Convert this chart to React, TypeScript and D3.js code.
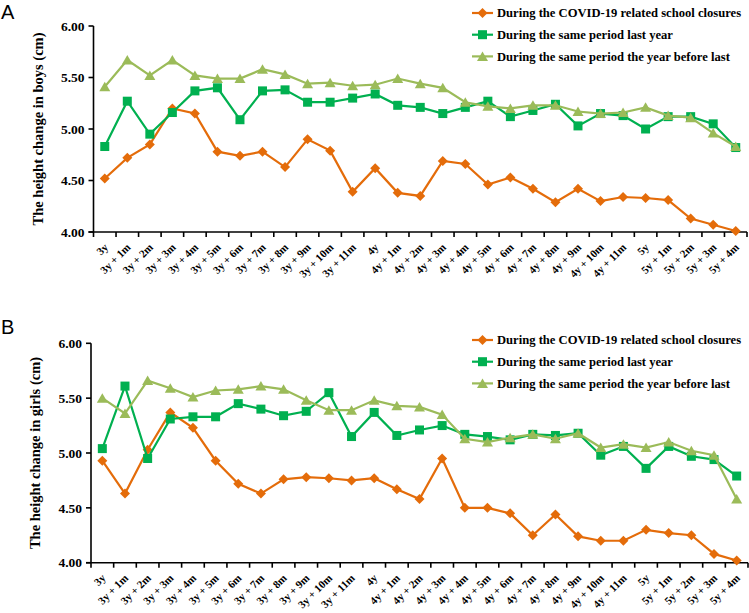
import React from "react";
import * as d3 from "d3";

const categories = [
  "3y", "3y + 1m", "3y + 2m", "3y + 3m", "3y + 4m", "3y + 5m", "3y + 6m", "3y + 7m", "3y + 8m", "3y + 9m", "3y + 10m", "3y + 11m",
  "4y", "4y + 1m", "4y + 2m", "4y + 3m", "4y + 4m", "4y + 5m", "4y + 6m", "4y + 7m", "4y + 8m", "4y + 9m", "4y + 10m", "4y + 11m",
  "5y", "5y + 1m", "5y + 2m", "5y + 3m", "5y + 4m",
];

const seriesNames = [
  "During the COVID-19 related school closures",
  "During the same period last year",
  "During the same period the year before last",
];

const boysCovid = [4.52, 4.72, 4.85, 5.2, 5.15, 4.78, 4.74, 4.78, 4.63, 4.9, 4.79, 4.39, 4.62, 4.38, 4.35, 4.69, 4.66, 4.46, 4.53, 4.42, 4.29, 4.42, 4.3, 4.34, 4.33, 4.31, 4.13, 4.07, 4.01];
const boysLastYear = [4.83, 5.27, 4.95, 5.16, 5.37, 5.4, 5.09, 5.37, 5.38, 5.26, 5.26, 5.3, 5.34, 5.23, 5.21, 5.15, 5.21, 5.27, 5.12, 5.18, 5.24, 5.03, 5.15, 5.13, 5.0, 5.12, 5.12, 5.05, 4.82];
const boysTwoYears = [5.41, 5.67, 5.52, 5.67, 5.52, 5.49, 5.49, 5.58, 5.53, 5.44, 5.45, 5.42, 5.43, 5.49, 5.44, 5.4, 5.26, 5.22, 5.2, 5.23, 5.23, 5.17, 5.15, 5.16, 5.21, 5.13, 5.11, 4.96, 4.83];

const girlsCovid = [4.93, 4.63, 5.03, 5.37, 5.23, 4.93, 4.72, 4.63, 4.76, 4.78, 4.77, 4.75, 4.77, 4.67, 4.58, 4.95, 4.5, 4.5, 4.45, 4.25, 4.44, 4.24, 4.2, 4.2, 4.3, 4.27, 4.25, 4.08, 4.02];
const girlsLastYear = [5.04, 5.61, 4.95, 5.31, 5.33, 5.33, 5.45, 5.4, 5.34, 5.38, 5.55, 5.15, 5.37, 5.16, 5.21, 5.25, 5.17, 5.15, 5.12, 5.17, 5.16, 5.18, 4.98, 5.06, 4.86, 5.06, 4.97, 4.94, 4.79];
const girlsTwoYears = [5.5, 5.36, 5.66, 5.59, 5.51, 5.57, 5.58, 5.61, 5.58, 5.48, 5.39, 5.39, 5.48, 5.43, 5.42, 5.35, 5.13, 5.1, 5.14, 5.17, 5.13, 5.18, 5.05, 5.08, 5.05, 5.1, 5.02, 4.98, 4.58];

const yTicks = [4.0, 4.5, 5.0, 5.5, 6.0];
const colors = ["#E46C0A", "#00B050", "#9BBB59"];
const SERIF = "'Liberation Serif', 'Times New Roman', serif";

function Marker({ kind, x, y, color }: { kind: number; x: number; y: number; color: string }) {
  if (kind === 0) {
    const r = 5;
    return <path d={`M${x},${y - r}L${x + r},${y}L${x},${y + r}L${x - r},${y}Z`} fill={color} />;
  }
  if (kind === 1) {
    const s = 9;
    return <rect x={x - s / 2} y={y - s / 2} width={s} height={s} fill={color} />;
  }
  const w = 5.5, h = 9;
  return <path d={`M${x},${y - h / 2 - 0.5}L${x + w},${y + h / 2}L${x - w},${y + h / 2}Z`} fill={color} />;
}

type PanelProps = {
  letter: string;
  letterY: number;
  title: string;
  series: number[][];
  x0: number;
  x1: number;
  y0: number;
  y1: number;
  legendY: number;
};

function Panel({ letter, letterY, title, series, x0, x1, y0, y1, legendY }: PanelProps) {
  const x = d3.scaleBand<string>().domain(categories).range([x0, x1]);
  const y = d3.scaleLinear().domain([4, 6]).range([y1, y0]);
  const bw = x.bandwidth();
  const line = d3
    .line<number>()
    .x((_, i) => (x(categories[i]) as number) + bw / 2)
    .y((d) => y(d));
  const boundaries = categories.map((c) => x(c) as number).concat([x1]);
  return (
    <g>
      <text x={1} y={letterY} fontFamily="'Liberation Sans', Arial, sans-serif" fontSize={20}>
        {letter}
      </text>
      {/* axes */}
      <line x1={x0} x2={x0} y1={y0} y2={y1} stroke="#000" strokeWidth={1.6} />
      <line x1={x0 - 5} x2={x1} y1={y1} y2={y1} stroke="#000" strokeWidth={1.6} />
      {yTicks.map((t) => (
        <g key={t}>
          <line x1={x0 - 5} x2={x0} y1={y(t)} y2={y(t)} stroke="#000" strokeWidth={1.6} />
          <text
            x={x0 - 9}
            y={y(t)}
            dy="0.35em"
            textAnchor="end"
            fontFamily={SERIF}
            fontWeight="bold"
            fontSize={13.5}
          >
            {t.toFixed(2)}
          </text>
        </g>
      ))}
      {boundaries.map((b, i) => (
        <line key={i} x1={b} x2={b} y1={y1} y2={y1 + 5} stroke="#000" strokeWidth={1.6} />
      ))}
      {categories.map((c) => (
        <text
          key={c}
          transform={`translate(${(x(c) as number) + bw / 2 + 4},${y1 + 16}) rotate(-45)`}
          textAnchor="end"
          fontFamily={SERIF}
          fontWeight="bold"
          fontSize={11}
        >
          {c}
        </text>
      ))}
      <text
        transform={`translate(${x0 - 51},${(y0 + y1) / 2}) rotate(-90)`}
        textAnchor="middle"
        fontFamily={SERIF}
        fontWeight="bold"
        fontSize={14.5}
      >
        {title}
      </text>
      {/* series */}
      {series.map((s, k) => (
        <g key={k}>
          <path d={line(s) as string} fill="none" stroke={colors[k]} strokeWidth={2.2} />
          {s.map((v, i) => (
            <Marker key={i} kind={k} x={(x(categories[i]) as number) + bw / 2} y={y(v)} color={colors[k]} />
          ))}
        </g>
      ))}
      {/* legend */}
      {seriesNames.map((n, k) => (
        <g key={n}>
          <line x1={472} x2={493} y1={legendY + k * 21.7} y2={legendY + k * 21.7} stroke={colors[k]} strokeWidth={2.2} />
          <Marker kind={k} x={482.5} y={legendY + k * 21.7} color={colors[k]} />
          <text
            x={497}
            y={legendY + k * 21.7}
            dy="0.35em"
            fontFamily={SERIF}
            fontWeight="bold"
            fontSize={12.6}
          >
            {n}
          </text>
        </g>
      ))}
    </g>
  );
}

export default function App() {
  return (
    <svg width={749} height={613} style={{ position: "absolute", left: 0, top: 0, background: "#fff" }}>
      <rect width={749} height={613} fill="#fff" />
      <Panel
        letter="A"
        letterY={19}
        title="The height change in boys (cm)"
        series={[boysCovid, boysLastYear, boysTwoYears]}
        x0={93.5}
        x1={747}
        y0={26}
        y1={232}
        legendY={13}
      />
      <Panel
        letter="B"
        letterY={334}
        title="The height change in girls (cm)"
        series={[girlsCovid, girlsLastYear, girlsTwoYears]}
        x0={91}
        x1={748}
        y0={343.3}
        y1={562.7}
        legendY={340}
      />
    </svg>
  );
}
